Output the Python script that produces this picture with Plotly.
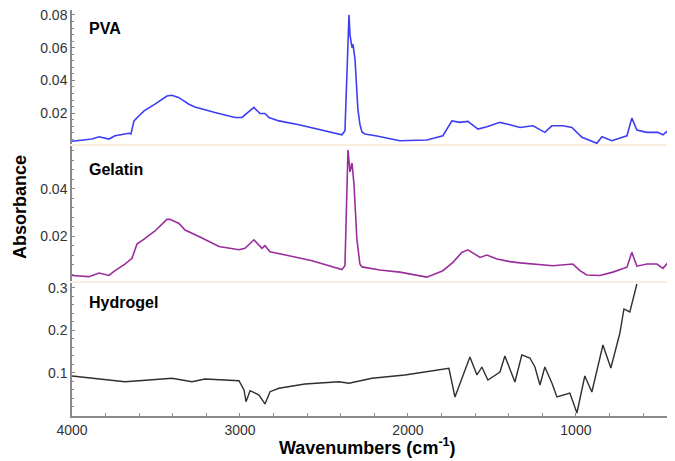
import plotly.graph_objects as go

# ---- data ----
pva_wn = [4000, 3881, 3839, 3780, 3744, 3661, 3649, 3631, 3601, 3571, 3506, 3435, 3405, 3363,
          3304, 3268, 3149, 3030, 2988, 2958, 2917, 2881, 2851, 2827, 2768, 2649, 2512, 2393,
          2375, 2351, 2345, 2339, 2333, 2327, 2315, 2298, 2286, 2274, 2256, 2185, 2048, 1887,
          1792, 1738, 1690, 1643, 1583, 1530, 1452, 1393, 1333, 1256, 1185, 1143, 1077, 1024,
          964, 875, 845, 786, 696, 667, 637, 577, 512, 482, 441, 423]
pva_abs = [0.0029, 0.0042, 0.0056, 0.0042, 0.0062, 0.0077, 0.0073, 0.0153, 0.0184, 0.0214, 0.0255,
           0.0305, 0.0309, 0.0295, 0.0255, 0.0238, 0.0204, 0.0174, 0.0174, 0.0198, 0.0235, 0.0198,
           0.0198, 0.0174, 0.0153, 0.0129, 0.0097, 0.0068, 0.0093, 0.0800, 0.0680, 0.0636, 0.0600,
           0.0620, 0.0527, 0.0224, 0.0133, 0.0085, 0.0073, 0.0061, 0.0032, 0.0036, 0.0062, 0.0153,
           0.0144, 0.0150, 0.0103, 0.0117, 0.0144, 0.0129, 0.0113, 0.0123, 0.0083, 0.0123, 0.0123,
           0.0113, 0.0053, 0.0016, 0.0056, 0.0032, 0.0062, 0.0170, 0.0097, 0.0083, 0.0083, 0.0068,
           0.0103, 0.0153]

gel_wn = [4000, 3899, 3839, 3780, 3744, 3685, 3643, 3613, 3571, 3506, 3435, 3417, 3363, 3327,
          3244, 3125, 3006, 2970, 2917, 2869, 2851, 2821, 2708, 2571, 2393, 2375, 2357, 2345,
          2333, 2321, 2304, 2286, 2274, 2167, 2048, 1887, 1792, 1732, 1679, 1643, 1571, 1530,
          1470, 1393, 1333, 1256, 1173, 1137, 1018, 976, 935, 857, 780, 696, 667, 637, 577, 518,
          482, 441, 417]
gel_abs = [0.0035, 0.0030, 0.0045, 0.0035, 0.0055, 0.0083, 0.0107, 0.0167, 0.0188, 0.0222, 0.0271,
           0.0271, 0.0254, 0.0226, 0.0199, 0.0157, 0.0143, 0.0149, 0.0185, 0.0149, 0.0160, 0.0135,
           0.0118, 0.0097, 0.0060, 0.0076, 0.0563, 0.0471, 0.0508, 0.0417, 0.0188, 0.0083, 0.0071,
           0.0058, 0.0049, 0.0028, 0.0055, 0.0090, 0.0132, 0.0143, 0.0111, 0.0121, 0.0104, 0.0093,
           0.0088, 0.0083, 0.0079, 0.0076, 0.0083, 0.0055, 0.0037, 0.0035, 0.0049, 0.0070, 0.0132,
           0.0074, 0.0083, 0.0083, 0.0065, 0.0097, 0.0160]

hyd_wn = [4000, 3804, 3685, 3601, 3405, 3286, 3208, 3006, 2976, 2964, 2940, 2887, 2851, 2821,
          2768, 2613, 2411, 2351, 2214, 2018, 1816, 1756, 1720, 1631, 1589, 1560, 1524, 1452,
          1423, 1363, 1322, 1274, 1244, 1214, 1185, 1143, 1113, 1077, 1036, 994, 947, 905, 839,
          792, 738, 714, 679, 637]
hyd_abs = [0.0929, 0.0852, 0.0795, 0.0819, 0.0875, 0.0795, 0.0859, 0.0819, 0.0600, 0.0325, 0.0584,
           0.0482, 0.0271, 0.0560, 0.0640, 0.0741, 0.0795, 0.0758, 0.0875, 0.0953, 0.1071, 0.1111,
           0.0435, 0.1376, 0.0953, 0.1141, 0.0835, 0.1024, 0.1400, 0.0788, 0.1424, 0.1353, 0.1141,
           0.0718, 0.1141, 0.0765, 0.0435, 0.0482, 0.0529, 0.0059, 0.0929, 0.0553, 0.1659, 0.1118,
           0.1941, 0.2506, 0.2435, 0.3094]

x_ticks = [4000, 3000, 2000, 1000]
panel_names = ["PVA", "Gelatin", "Hydrogel"]

FONT = "Liberation Sans, Arial, sans-serif"
AX = "#8a8a8a"
SEP = "#f8eedb"
TXT = "#333333"

fig = go.Figure()
fig.add_trace(go.Scatter(x=pva_wn, y=pva_abs, mode="lines", line=dict(color="#3d3df5", width=1.6),
                         xaxis="x3", yaxis="y3", showlegend=False))
fig.add_trace(go.Scatter(x=gel_wn, y=gel_abs, mode="lines", line=dict(color="#9a2d9c", width=1.6),
                         xaxis="x2", yaxis="y2", showlegend=False))
fig.add_trace(go.Scatter(x=hyd_wn, y=hyd_abs, mode="lines", line=dict(color="#2f2f2f", width=1.4),
                         xaxis="x", yaxis="y", showlegend=False))

xr = [4000, 410]
common_x = dict(range=xr, showgrid=False, zeroline=False, automargin=False, ticklabeloverflow="allow")
minor_y = dict(ticks="inside", ticklen=2, tickcolor=AX, showgrid=False)
common_y = dict(showline=True, linecolor=AX, linewidth=1.5, ticks="inside", ticklen=3, tickcolor=AX,
                zeroline=False, showgrid=False, automargin=False, ticklabeloverflow="allow",
                tickfont=dict(size=14, color=TXT))

# the page body adds an 8px margin, so the figure is 8px smaller on each side
fig.update_layout(
    width=667, height=453,
    margin=dict(l=64, r=0, t=2, b=45),
    paper_bgcolor="white", plot_bgcolor="white",
    font=dict(family=FONT, size=14, color=TXT),
    xaxis=dict(**common_x, domain=[0, 1], anchor="y", showline=True, linecolor=AX, linewidth=1.5,
               tickvals=x_ticks, ticks="inside", ticklen=3, tickcolor=AX,
               minor=dict(dtick=200, tick0=0, ticks="inside", ticklen=3, tickcolor=AX),
               tickfont=dict(size=14, color=TXT)),
    xaxis2=dict(**common_x, domain=[0, 1], anchor="y2", matches="x", showticklabels=False,
                showline=True, linecolor=SEP, linewidth=2, ticks=""),
    xaxis3=dict(**common_x, domain=[0, 1], anchor="y3", matches="x", showticklabels=False,
                showline=True, linecolor=SEP, linewidth=2, ticks=""),
    yaxis=dict(**common_y, domain=[0, 0.330], range=[-0.0012, 0.314], tickvals=[0.1, 0.2, 0.3],
               minor=dict(dtick=0.02, tick0=0, **minor_y)),
    yaxis2=dict(**common_y, domain=[0.333, 0.667], range=[0.00125, 0.0583], tickvals=[0.02, 0.04],
                minor=dict(dtick=0.004, tick0=0, **minor_y)),
    yaxis3=dict(**common_y, domain=[0.670, 1], range=[0.0012, 0.083], tickvals=[0.02, 0.04, 0.06, 0.08],
                minor=dict(dtick=0.004, tick0=0, **minor_y)),
)

# panel labels
for name, yref, ypos in zip(panel_names, ["y3 domain", "y2 domain", "y domain"], [0.86, 0.82, 0.85]):
    fig.add_annotation(text=f"<b>{name}</b>", xref="paper", yref=yref, x=0.025, y=ypos,
                       xanchor="left", yanchor="middle", showarrow=False,
                       font=dict(size=16, color="black", family=FONT))

fig.add_annotation(text="<b>Absorbance</b>", xref="paper", yref="paper", x=-0.086, y=0.515,
                   xanchor="center", yanchor="middle", textangle=-90, showarrow=False,
                   font=dict(size=18, color="black", family=FONT))
fig.add_annotation(text="<b>Wavenumbers (cm<sup>-1</sup>)</b>", xref="paper", yref="paper",
                   x=0.49, y=-0.076, xanchor="center", yanchor="middle", showarrow=False,
                   font=dict(size=18, color="black", family=FONT))

fig.write_html("out.html")
